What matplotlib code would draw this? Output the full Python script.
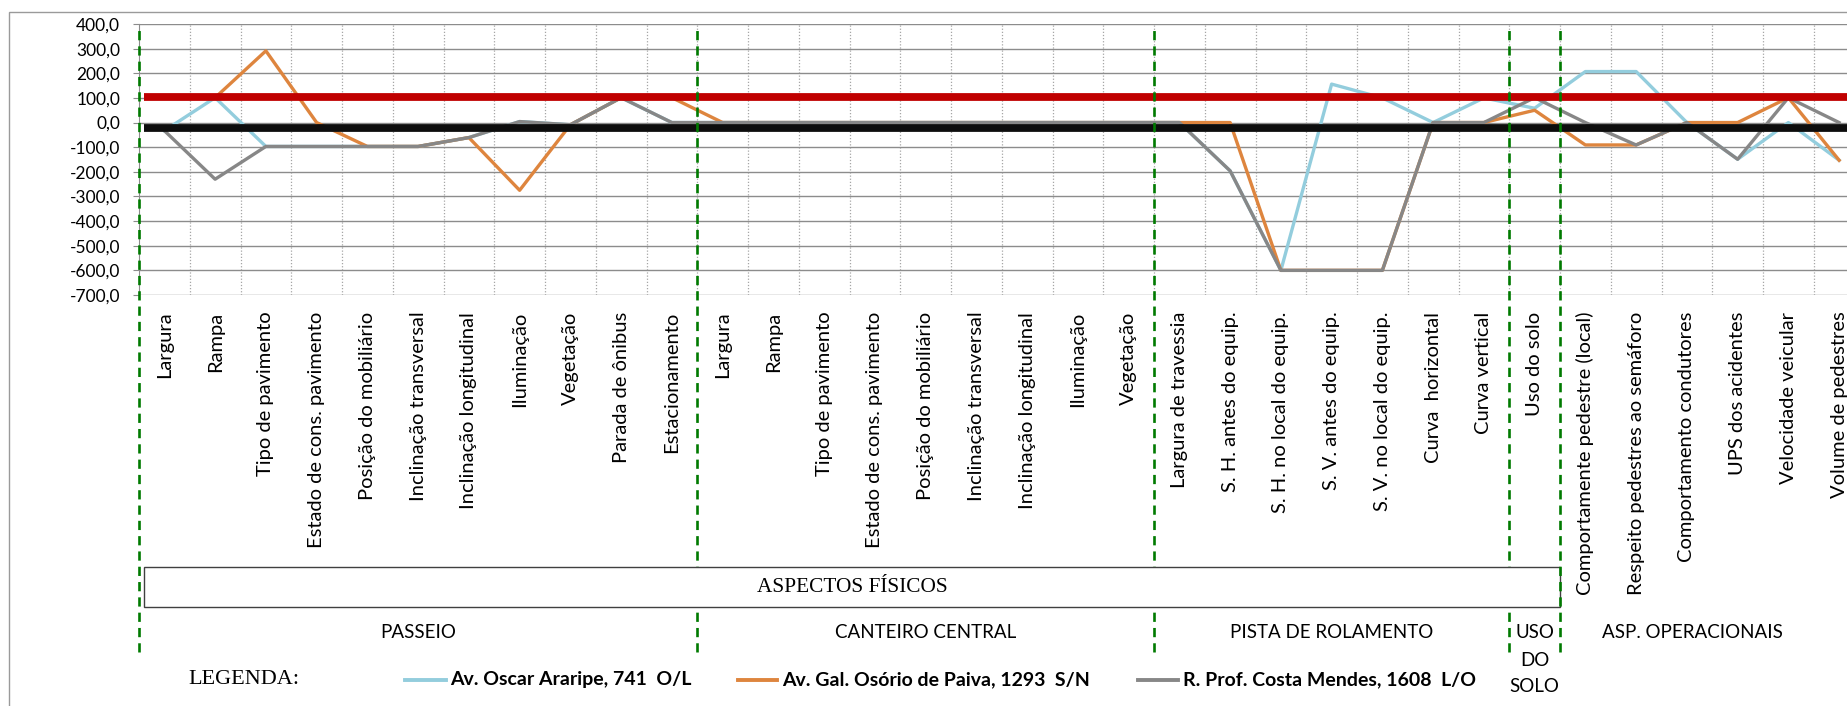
import matplotlib
matplotlib.use('Agg')
from matplotlib import pyplot as plt
from matplotlib.lines import Line2D
from matplotlib.patches import Rectangle
from matplotlib.transforms import blended_transform_factory
import numpy as np

plt.rcParams['font.family'] = ['Lato', 'DejaVu Sans']

W, H = 1847, 706

# categorias do eixo x (34 itens, da esquerda para a direita)
categorias = [
    'Largura', 'Rampa', 'Tipo de pavimento', 'Estado de cons. pavimento',
    'Posição do mobiliário', 'Inclinação transversal', 'Inclinação longitudinal',
    'Iluminação', 'Vegetação', 'Parada de ônibus', 'Estacionamento',
    'Largura', 'Rampa', 'Tipo de pavimento', 'Estado de cons. pavimento',
    'Posição do mobiliário', 'Inclinação transversal', 'Inclinação longitudinal',
    'Iluminação', 'Vegetação',
    'Largura de travessia', 'S. H. antes do equip.', 'S. H. no local do equip.',
    'S. V. antes do equip.', 'S. V. no local do equip.', 'Curva  horizontal',
    'Curva vertical',
    'Uso do solo',
    'Comportamente pedestre (local)', 'Respeito pedestres ao semáforo',
    'Comportamento condutores', 'UPS dos acidentes', 'Velocidade veicular',
    'Volume de pedestres',
]
grupos = ['PASSEIO', 'CANTEIRO CENTRAL', 'PISTA DE ROLAMENTO', 'USO\nDO\nSOLO', 'ASP. OPERACIONAIS']
tam_grupos = [11, 9, 7, 1, 6]

# valores
oscar = [-33, 101, -97, -97, -97, -97, -61, 4, -9, 101, 0,
         0, 0, 0, 0, 0, 0, 0, 0, 0,
         0, -196, -600, 156, 100, 0, 100,
         58,
         207, 207, 0, -149, 0, -153]
osorio = [100, 101, 291, 0, -97, -97, -61, -275, -9, 101, 101,
          0, 0, 0, 0, 0, 0, 0, 0, 0,
          0, 0, -600, -600, -600, 0, 0,
          50,
          -91, -91, 0, 0, 101, -153]
costa = [-33, -230, -97, -97, -97, -97, -61, 4, -9, 101, 0,
         0, 0, 0, 0, 0, 0, 0, 0, 0,
         0, -196, -600, -600, -600, 0, 0,
         101,
         0, -91, 0, -149, 101, 0]
nomes = ['Av. Oscar Araripe, 741  O/L', 'Av. Gal. Osório de Paiva, 1293  S/N',
         'R. Prof. Costa Mendes, 1608  L/O']
cores = ['#93CDDD', '#DE853E', '#878787']

ref_vermelha = 105.5
ref_preta = -21.6
y_ticks = np.arange(-700, 401, 100)


def fx(x):
    return x / W


def fy(y):
    return 1 - y / H


fig = plt.figure(figsize=(W / 100, H / 100), dpi=100, facecolor='white')

# borda do grafico (so aparecem topo e esquerda)
fig.add_artist(Rectangle((fx(9), -0.2), 1.5, fy(12) + 0.2, transform=fig.transFigure,
                         facecolor='none', edgecolor='#9a9a9a', lw=1.0, zorder=0.5))

x0, x1 = 139, 139 + 34 * 50.75
ax = fig.add_axes([fx(x0), fy(295), (x1 - x0) / W, (295 - 24) / H])
ax.set_xlim(-0.5, len(categorias) - 0.5)
ax.set_ylim(-700, 400)

x = np.arange(len(categorias))
for serie, cor in zip([oscar, osorio, costa], cores):
    ax.plot(x, serie, color=cor, lw=2.4, zorder=3, solid_joinstyle='round')

ax.hlines(ref_vermelha, -0.4, len(categorias), color='#C00000', lw=5.6, zorder=4)
ax.hlines(ref_preta, -0.4, len(categorias), color='#0D0D0D', lw=5.6, zorder=4)

ax.set_yticks(y_ticks)
ax.set_yticklabels([f'{v:.1f}'.replace('.', ',') for v in y_ticks], fontsize=12.5)
ax.set_xticks(x)
ax.set_xticklabels(categorias, rotation=90, fontsize=14.5, va='top', ha='center')
ax.set_xticks(np.arange(0.5, len(categorias), 1), minor=True)
ax.tick_params(axis='x', which='both', length=0, pad=12)
ax.tick_params(axis='y', length=4, direction='out', color='#8c8c8c', pad=9.5)
ax.grid(axis='y', color='#8c8c8c', lw=1.0, zorder=1)
ax.grid(axis='x', which='minor', color='#a6a6a6', lw=0.9, ls=(0, (1, 1.5)), zorder=1)
ax.set_axisbelow(True)
for s in ['top', 'right', 'bottom']:
    ax.spines[s].set_visible(False)
ax.spines['left'].set_color('#8c8c8c')

# divisorias verdes tracejadas
limites = np.concatenate([[-0.5], np.cumsum(tam_grupos)[:-1] - 0.5])
trans = blended_transform_factory(ax.transData, fig.transFigure)
for i, b in enumerate(limites):
    z = 6 if i in (0, len(limites) - 1) else 4
    fig.add_artist(Line2D([b, b], [fy(652), fy(25)], transform=trans, color='#007A00',
                          lw=1.9, ls=(0, (3.5, 2.3)), clip_on=False, zorder=z))

# caixa ASPECTOS FISICOS
bx0 = ax.transData.transform((-0.5, 0))[0] + 5
bx1 = ax.transData.transform((limites[-1], 0))[0]
fig.add_artist(Rectangle((bx0 / W, fy(607)), (bx1 - bx0) / W, 40 / H, transform=fig.transFigure,
                         facecolor='white', edgecolor='#404040', lw=1.0, zorder=5))
fig.text((bx0 + bx1) / 2 / W, fy(588), 'ASPECTOS FÍSICOS', family='Liberation Serif',
         fontsize=15.3, ha='center', va='center', zorder=7)

# nomes dos grupos
inicio = np.concatenate([[0], np.cumsum(tam_grupos)[:-1]])
desloc = [0, 0, 0, 0, -0.4]
for g, ini, n, d in zip(grupos, inicio, tam_grupos, desloc):
    cx = ini - 0.5 + n / 2 + d
    for k, parte in enumerate(g.split('\n')):
        fig.text(cx, fy(633 + 27 * k), parte, transform=trans, fontsize=13.5,
                 ha='center', va='center')

# legenda
fig.text(fx(188), fy(680), 'LEGENDA:', family='Liberation Serif', fontsize=16,
         ha='left', va='center')
pos_leg = [(405, 446, 450), (738, 777, 782), (1138, 1178, 1183)]
for (la, lb, tx), cor, nome in zip(pos_leg, cores, nomes):
    fig.add_artist(Line2D([fx(la), fx(lb)], [fy(680), fy(680)], transform=fig.transFigure,
                          color=cor, lw=2.8))
    fig.text(fx(tx), fy(680), nome, fontsize=14, fontweight='bold', ha='left', va='center')

plt.savefig('out.png', dpi=100, facecolor='white')
